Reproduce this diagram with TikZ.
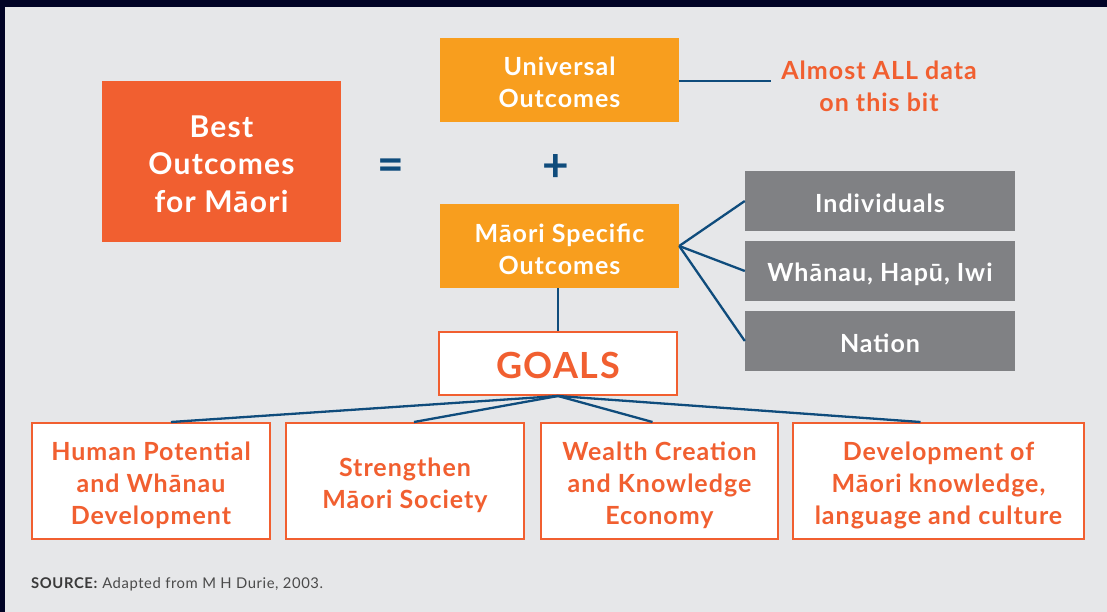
\documentclass[tikz,border=0pt]{standalone}
\usepackage{fontspec}
\setmainfont{Lato}[LetterSpace=4]
\usetikzlibrary{calc}
\definecolor{bgc}{HTML}{E6E7E9}
\definecolor{topc}{HTML}{010326}
\definecolor{redor}{HTML}{F15F30}
\definecolor{amber}{HTML}{F89E1E}
\definecolor{greyb}{HTML}{808184}
\definecolor{navy}{HTML}{0F4C7C}
\definecolor{srcc}{HTML}{3A3A3A}
\definecolor{srcd}{HTML}{4A4A4A}
\tikzset{
  x=1pt, y=-1pt,
  boxbase/.style={inner sep=0pt},
  redbox/.style={boxbase, fill=redor, minimum width=239pt, minimum height=161pt},
  ambox/.style={boxbase, fill=amber, minimum width=239pt, minimum height=84pt},
  greybox/.style={boxbase, fill=greyb, minimum width=270pt, minimum height=60pt},
  goalbox/.style={boxbase, fill=white, draw=redor, line width=2.2pt},
  whitetext/.style={inner sep=0pt, align=center, text=white, font=\bfseries\fontsize{25}{32}\selectfont},
  bigwhite/.style={whitetext, font=\bfseries\fontsize{30}{37.5}\selectfont},
  redtext/.style={inner sep=0pt, align=center, text=redor, font=\bfseries\fontsize{25}{32}\selectfont},
  opsign/.style={text=navy, font=\bfseries\fontsize{46}{46}\selectfont, inner sep=0pt, anchor=base},
  link/.style={draw=navy, line width=2.3pt},
}
\begin{document}
\begin{tikzpicture}
\useasboundingbox (0,0) rectangle (1107,612);
\fill[bgc] (0,0) rectangle (1107,612);
\fill[topc] (0,0) rectangle (1107,7);
\fill[topc] (0,0) rectangle (5,612);

% boxes
\node[redbox] (best) at (221.5,161.5) {};
\node[ambox] (univ) at (559.5,80) {};
\node[ambox] (spec) at (559.5,246) {};
\node[greybox] (ind) at (880,201) {};
\node[greybox] (wha) at (880,271) {};
\node[greybox] (nat) at (880,341) {};
\node[goalbox, minimum width=237.8pt, minimum height=62.8pt] (goals) at (558,363.5) {};
\node[goalbox, minimum width=237.8pt, minimum height=115.8pt] (g1) at (151,481) {};
\node[goalbox, minimum width=237.8pt, minimum height=115.8pt] (g2) at (405,481) {};
\node[goalbox, minimum width=236.8pt, minimum height=115.8pt] (g3) at (659.5,481) {};
\node[goalbox, minimum width=290.8pt, minimum height=115.8pt] (g4) at (938.5,481) {};

% texts
\node[bigwhite] (best-t) at ($(best)+(0,2.5)$) {Best\\Outcomes\\for Māori};
\node[whitetext] (univ-t) at ($(univ)+(0,2)$) {Universal\\Outcomes};
\node[whitetext] (spec-t) at ($(spec)+(0,3)$) {Māori Specific\\Outcomes};
\node[whitetext] (ind-t) at ($(ind)+(0,2)$) {Individuals};
\node[whitetext] (wha-t) at ($(wha)+(0,3)$) {Whānau, Hapū, Iwi};
\node[whitetext] (nat-t) at ($(nat)+(0,2)$) {Nation};
\node[redtext, font=\bfseries\fontsize{36}{36}\selectfont] (goals-t) at ($(goals)+(0,2)$) {GOALS};
\node[redtext] (g1-t) at ($(g1)+(0,4.5)$) {Human Potential\\and Whānau\\Development};
\node[redtext] (g2-t) at ($(g2)+(0,4)$) {Strengthen\\Māori Society};
\node[redtext] (g3-t) at ($(g3)+(0,4)$) {Wealth Creation\\and Knowledge\\Economy};
\node[redtext] (g4-t) at ($(g4)+(0,4)$) {Development of\\Māori knowledge,\\language and culture};
\node[redtext] (almost) at (879,86) {Almost ALL data\\on this bit};
\coordinate (almostend) at (771,81);

\node[opsign] (eq) at (391,181) {=};
\node[opsign] (plus) at (556,182) {+};

\node[anchor=base west, inner sep=0pt, text=srcd, font=\fontsize{14.8}{14.8}\selectfont] (src) at (31,588) {\textcolor{srcc}{\textbf{SOURCE:}} Adapted from M H Durie, 2003.};

% connectors
\draw[link] (univ.east |- almostend) -- (almostend);
\draw[link] (spec.east) -- (ind.west);
\draw[link] (spec.east) -- (wha.west);
\draw[link] (spec.east) -- (nat.west);
\draw[link] (goals.north |- spec.south) -- (goals.north);
\draw[link] (goals.south) -- ($(g1.north)+(20,0)$);
\draw[link] (goals.south) -- ($(g2.north)+(9,0)$);
\draw[link] (goals.south) -- ($(g3.north)+(-7,0)$);
\draw[link] (goals.south) -- ($(g4.north)+(-18,0)$);
\end{tikzpicture}
\end{document}
